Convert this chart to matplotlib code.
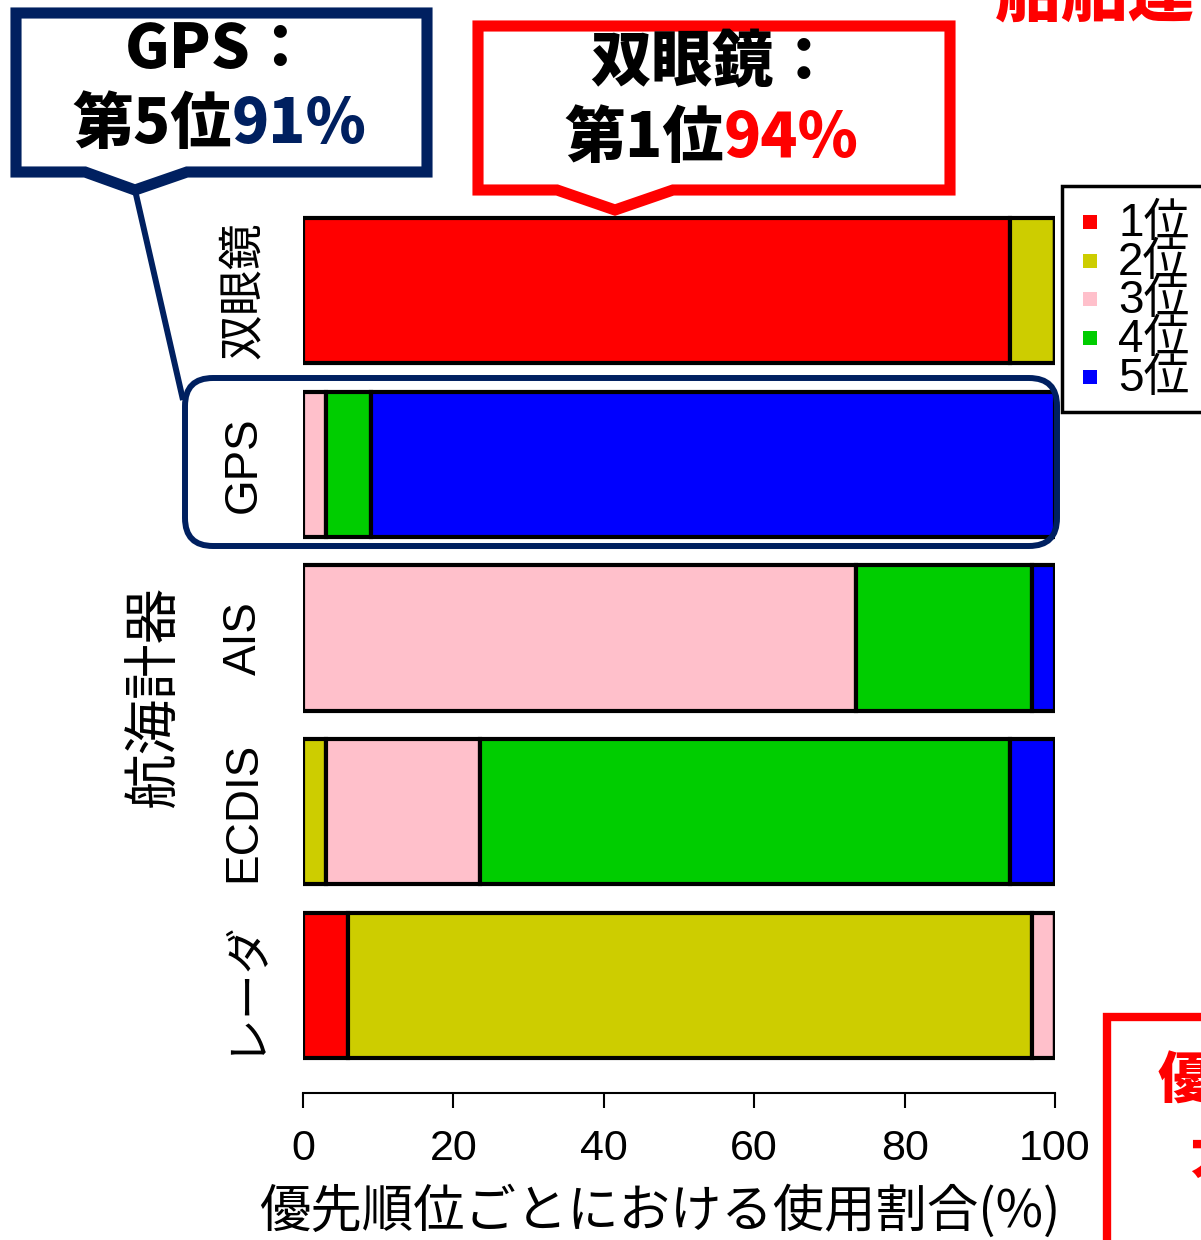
import matplotlib.pyplot as plt
from matplotlib.patches import Rectangle, Polygon, FancyBboxPatch
import numpy as np

plt.rcParams['font.family'] = ['Liberation Sans', 'Noto Sans CJK JP']
CJK = ['Noto Sans CJK JP', 'DejaVu Sans']

devices = ["双眼鏡", "GPS", "AIS", "ECDIS", "レーダ"]
ranks = ["1位", "2位", "3位", "4位", "5位"]
colors = ["#FF0000", "#CDCD00", "#FFC0CB", "#00CD00", "#0000FF"]

# share (%) of each priority rank, one entry per device in `devices`
rank1 = [94, 0, 0, 0, 6]
rank2 = [6, 0, 0, 3, 91]
rank3 = [0, 3, 73.5, 20.5, 3]
rank4 = [0, 6, 23.5, 70.5, 0]
rank5 = [0, 91, 3, 6, 0]
shares = np.array([rank1, rank2, rank3, rank4, rank5])

NAVY = "#002060"
RED = "#FF0000"

fig = plt.figure(figsize=(12.01, 12.40), dpi=100)
W, H = 1201, 1240

# main stacked bar chart (pixel-based placement)
ax = fig.add_axes([303 / W, 1 - 1072.4 / H, 752 / W, 868.8 / H])
y = np.arange(len(devices))
left = np.zeros(len(devices))
for k in range(len(ranks)):
    ax.barh(y, shares[k], left=left, height=0.835, color=colors[k],
            edgecolor="black", linewidth=3)
    left += shares[k]

ax.set_xlim(0, 100)
ax.set_ylim(4.5, -0.5)
for s in ["top", "right", "left"]:
    ax.spines[s].set_visible(False)
ax.spines["bottom"].set_position(("outward", 15))
ax.spines["bottom"].set_linewidth(1.5)
ax.set_xticks([0, 20, 40, 60, 80, 100])
ax.tick_params(axis="x", direction="out", length=11, width=1.5, pad=15, labelsize=31)
ax.set_yticks(y, devices, rotation=90, va="center")
ax.tick_params(axis="y", length=0, pad=27, labelsize=33)

# overlay in pixel coordinates for callouts, legend and labels
ov = fig.add_axes([0, 0, 1, 1], zorder=5)
ov.set_xlim(0, W)
ov.set_ylim(H, 0)
ov.axis("off")
ov.patch.set_alpha(0)

ov.text(155, 697, "航海計器", rotation=90, ha="center", va="center",
        fontsize=40, family=CJK)
ov.text(660, 1212, "優先順位ごとにおける使用割合(%)", ha="center", va="center",
        fontsize=37, family=CJK)

# legend
ov.add_patch(Rectangle((1062, 186), 200, 226, facecolor="white",
                       edgecolor="black", linewidth=2.5))
for k, (lab, c) in enumerate(zip(ranks, colors)):
    yy = 222 + 38.7 * k
    ov.add_patch(Rectangle((1083, yy - 7), 14, 14, facecolor=c, edgecolor="none"))
    ov.text(1118, yy + 2, lab, ha="left", va="center", fontsize=33)

# GPS callout
ov.add_patch(Polygon([(16, 13), (427, 13), (427, 172), (187, 172), (135, 190),
                      (85, 172), (16, 172)], closed=True, facecolor="white",
                     edgecolor=NAVY, linewidth=8, joinstyle="miter"))
ov.plot([135, 183], [190, 400], color=NAVY, linewidth=4.3, solid_capstyle="butt")
ov.add_patch(FancyBboxPatch((185, 378), 872, 168, boxstyle="round,pad=0,rounding_size=28",
                            facecolor="none", edgecolor=NAVY, linewidth=4.3))

# binoculars callout
ov.add_patch(Polygon([(478, 26), (950, 26), (950, 190), (673, 190), (615, 210),
                      (557, 190), (478, 190)], closed=True, facecolor="white",
                     edgecolor=RED, linewidth=8, joinstyle="miter"))


def two_tone(x, yc, head, tail, color, size=44):
    t = ov.text(x, yc, head, ha="left", va="center", fontsize=size,
                fontweight="heavy", family=CJK, color="black")
    ov.annotate(tail, xy=(1, 0), xycoords=t, ha="left", va="bottom",
                fontsize=size, fontweight="heavy", family=CJK, color=color)


ov.text(218, 50, "GPS：", ha="center", va="center", fontsize=44,
        fontweight="heavy", family=CJK)
two_tone(72, 125, "第5位", "91%", NAVY)
ov.text(712, 63, "双眼鏡：", ha="center", va="center", fontsize=44,
        fontweight="heavy", family=CJK)
two_tone(564, 139, "第1位", "94%", RED)

# partly visible red notes at the edges
ov.text(995, 30, "船舶運", ha="left", va="bottom", fontsize=48,
        fontweight="heavy", family=CJK, color=RED, clip_on=False)
ov.add_patch(Rectangle((1107, 1017), 200, 300, facecolor="white",
                       edgecolor=RED, linewidth=6))
ov.text(1158, 1082, "優先", ha="left", va="center", fontsize=40,
        fontweight="heavy", family=CJK, color=RED)
ov.text(1189, 1156, "大", ha="left", va="center", fontsize=40,
        fontweight="heavy", family=CJK, color=RED)

fig.savefig("out.png", dpi=100)
